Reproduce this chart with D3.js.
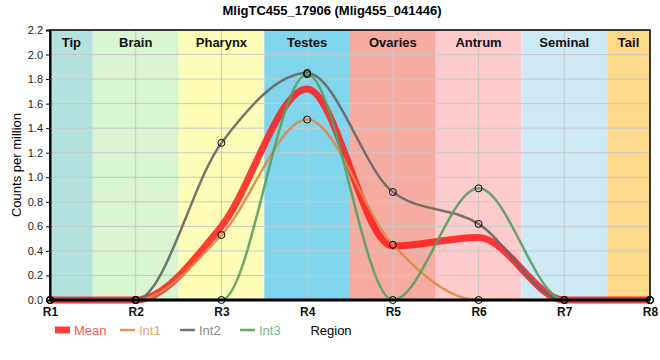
<!DOCTYPE html>
<html>
<head>
<meta charset="utf-8">
<script src="https://cdn.jsdelivr.net/npm/d3@7"></script>
<style>
  body { margin: 0; background: #fff; }
  svg { font-family: "Liberation Sans", Arial, sans-serif; }
</style>
</head>
<body>
<div id="chart"></div>
<script>
// data
var regions = ["R1", "R2", "R3", "R4", "R5", "R6", "R7", "R8"];
var tissues = ["Tip", "Brain", "Pharynx", "Testes", "Ovaries", "Antrum", "Seminal", "Tail"];
var tissueColors = ["#b4e2de", "#d8f5cf", "#fefdb8", "#80d4eb", "#f5ab9f", "#fecbcc", "#cdeaf4", "#fdd98b"];
var yTicks = [0, 0.2, 0.4, 0.6, 0.8, 1.0, 1.2, 1.4, 1.6, 1.8, 2.0, 2.2];

var int1 = [0, 0, 0.53, 1.47, 0.45, 0, 0, 0];
var int2 = [0, 0, 1.28, 1.85, 0.88, 0.62, 0, 0];
var int3 = [0, 0, 0, 1.84, 0, 0.91, 0, 0];
var mean = [0, 0, 0.60, 1.72, 0.44, 0.51, 0, 0];

var series = [
  {name: "Mean", values: mean, color: "#ff1a1a", width: 7, opacity: 0.85, dots: false},
  {name: "Int1", values: int1, color: "#dd8a4a", width: 2.5, opacity: 0.9, dots: true},
  {name: "Int2", values: int2, color: "#666666", width: 2.5, opacity: 0.9, dots: true},
  {name: "Int3", values: int3, color: "#55a062", width: 2.5, opacity: 0.9, dots: true}
];

var W = 660, H = 360;
var margin = {top: 30, right: 10, bottom: 60, left: 50};
var width = W - margin.left - margin.right,
    height = H - margin.top - margin.bottom;

var svg = d3.select("#chart").append("svg")
  .attr("width", W)
  .attr("height", H);

var g = svg.append("g")
  .attr("transform", "translate(" + margin.left + "," + margin.top + ")");

var x = d3.scaleLinear().domain([0, regions.length - 1]).range([0, width]);
var y = d3.scaleLinear().domain([0, 2.2]).range([height, 0]);

// tissue bands
g.selectAll("rect.band")
  .data(tissues)
  .enter().append("rect")
  .attr("class", "band")
  .attr("x", (d, i) => x(Math.max(0, i - 0.5)))
  .attr("y", 0)
  .attr("width", (d, i) => x(Math.min(regions.length - 1, i + 0.5)) - x(Math.max(0, i - 0.5)))
  .attr("height", height)
  .attr("fill", (d, i) => tissueColors[i]);

// grid
g.selectAll("line.hgrid")
  .data(yTicks)
  .enter().append("line")
  .attr("x1", 0).attr("x2", width)
  .attr("y1", d => y(d)).attr("y2", d => y(d))
  .attr("stroke", "#c8c8c8").attr("stroke-width", 1);

g.selectAll("line.vgrid")
  .data(regions)
  .enter().append("line")
  .attr("x1", (d, i) => x(i)).attr("x2", (d, i) => x(i))
  .attr("y1", 0).attr("y2", height)
  .attr("stroke", "#c8c8c8").attr("stroke-width", 1);

// band labels
g.selectAll("text.band")
  .data(tissues)
  .enter().append("text")
  .attr("x", (d, i) => (x(Math.max(0, i - 0.5)) + x(Math.min(regions.length - 1, i + 0.5))) / 2)
  .attr("y", 17)
  .attr("text-anchor", "middle")
  .style("font-size", "13px")
  .style("font-weight", "bold")
  .attr("fill", "#111")
  .text(d => d);

// lines
var line = d3.line()
  .curve(d3.curveMonotoneX)
  .x((d, i) => x(i))
  .y(d => y(d));

g.selectAll("path.series")
  .data(series)
  .enter().append("path")
  .attr("fill", "none")
  .attr("stroke", d => d.color)
  .attr("stroke-width", d => d.width)
  .attr("stroke-opacity", d => d.opacity)
  .attr("stroke-linejoin", "round")
  .attr("d", d => line(d.values));

// frame + axes
g.append("rect")
  .attr("width", width).attr("height", height)
  .attr("fill", "none").attr("stroke", "#000").attr("stroke-width", 1.5);

g.append("line")
  .attr("x1", 0).attr("x2", width).attr("y1", height).attr("y2", height)
  .attr("stroke", "#000").attr("stroke-width", 3);

// dots
series.filter(s => s.dots).forEach(function (s) {
  g.selectAll(null)
    .data(s.values)
    .enter().append("circle")
    .attr("cx", (d, i) => x(i))
    .attr("cy", d => y(d))
    .attr("r", 3.5)
    .attr("fill", "none")
    .attr("stroke", "#000")
    .attr("stroke-width", 1);
});

var yAxis = d3.axisLeft(y)
  .tickValues(yTicks)
  .tickFormat(d3.format(".1f"))
  .tickSize(4);

g.append("g")
  .attr("class", "yAxis")
  .call(yAxis)
  .call(a => a.select(".domain").attr("stroke-width", 2))
  .call(a => a.selectAll("text").style("font-size", "11px").attr("fill", "#222"));

var xAxis = d3.axisBottom(x)
  .tickValues(d3.range(regions.length))
  .tickFormat(i => regions[i])
  .tickSize(0)
  .tickPadding(7);

g.append("g")
  .attr("class", "xAxis")
  .attr("transform", `translate(0,${height})`)
  .call(xAxis)
  .call(a => a.select(".domain").remove())
  .call(a => a.selectAll("text").style("font-size", "12px").style("font-weight", "bold").attr("fill", "#111"));

// title
svg.append("text")
  .attr("x", 332)
  .attr("y", 15)
  .attr("text-anchor", "middle")
  .style("font-size", "13px")
  .style("font-weight", "bold")
  .text("MligTC455_17906 (Mlig455_041446)");

// y label
svg.append("text")
  .attr("transform", "translate(21," + (margin.top + height / 2) + ") rotate(-90)")
  .attr("text-anchor", "middle")
  .style("font-size", "13px")
  .text("Counts per million");

// x label
svg.append("text")
  .attr("x", 331)
  .attr("y", 335)
  .attr("text-anchor", "middle")
  .style("font-size", "13px")
  .text("Region");

// legend
var legendX = [55, 120, 180, 240];
var leg = svg.selectAll("g.legend")
  .data(series)
  .enter().append("g")
  .attr("transform", (d, i) => "translate(" + legendX[i] + ",330)");

leg.append("line")
  .attr("x1", 0).attr("x2", 15)
  .attr("y1", 0).attr("y2", 0)
  .attr("stroke", d => d.color)
  .attr("stroke-opacity", d => d.opacity)
  .attr("stroke-width", d => d.name === "Mean" ? 7 : 2.5);

leg.append("text")
  .attr("x", 19)
  .attr("y", 5)
  .style("font-size", "13px")
  .attr("fill", d => d.color)
  .attr("fill-opacity", 0.8)
  .text(d => d.name);
</script>
</body>
</html>
